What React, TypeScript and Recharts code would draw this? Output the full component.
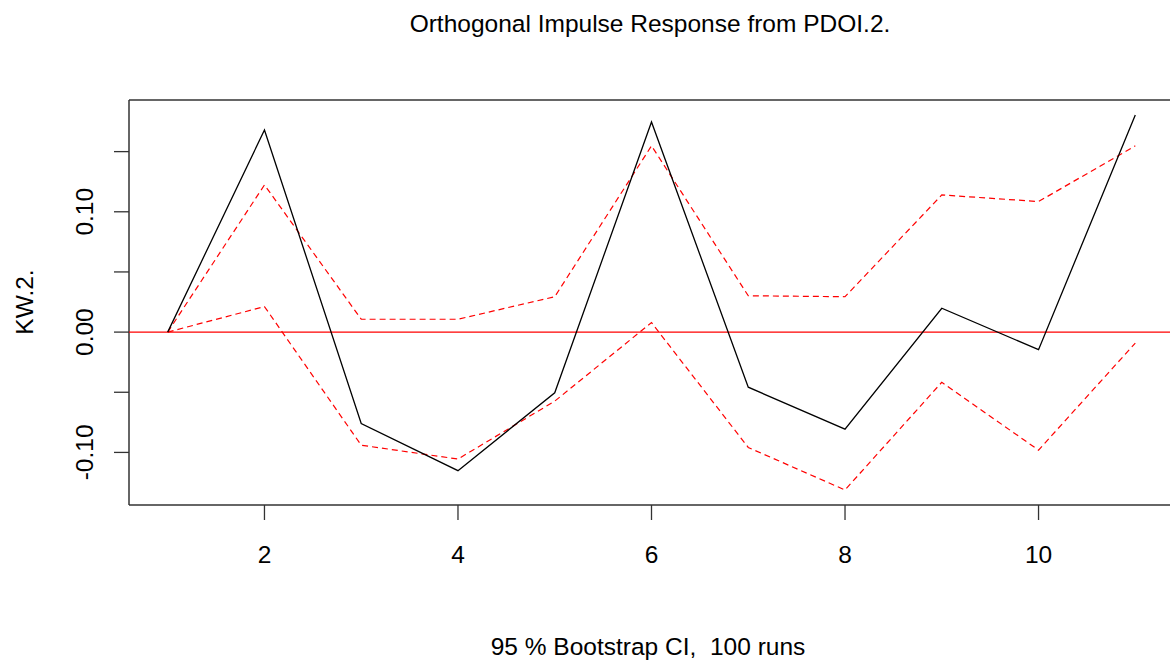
import React from 'react';
import { LineChart, Line, XAxis, YAxis, ReferenceLine } from 'recharts';

// impulse response horizon
const steps = [1, 2, 3, 4, 5, 6, 7, 8, 9, 10, 11];
const irf = [0, 0.168, -0.076, -0.1152, -0.0504, 0.1746, -0.0458, -0.0807, 0.0198, -0.0146, 0.1804];
const upperCI = [0, 0.1223, 0.0107, 0.0107, 0.0294, 0.1548, 0.0302, 0.0294, 0.114, 0.1085, 0.1548];
const lowerCI = [0, 0.0212, -0.094, -0.1055, -0.0574, 0.0079, -0.0959, -0.1312, -0.0417, -0.0981, -0.0091];

const xTicks = [2, 4, 6, 8, 10];
const yTicks = [-0.1, -0.05, 0, 0.05, 0.1, 0.15];
const yLabelled = [-0.1, 0, 0.1];

const X_DOMAIN: [number, number] = [0.6, 11.4];
const Y_DOMAIN: [number, number] = [-0.1437, 0.1929];

const FONT = '"Liberation Sans", Arial, sans-serif';
const FS = 24.5;

const data = steps.map((s, i) => ({
  step: s,
  irf: irf[i],
  upper: upperCI[i],
  lower: lowerCI[i],
}));

const YTick = (props: any) => {
  const { x, y, payload } = props;
  const v = payload.value;
  if (!yLabelled.some((l) => Math.abs(l - v) < 1e-9)) return null;
  return (
    <text
      x={x}
      y={y}
      transform={`rotate(-90 ${x} ${y})`}
      textAnchor="middle"
      fill="#000"
      fontSize={FS}
      fontFamily={FONT}
    >
      {v.toFixed(2)}
    </text>
  );
};

const App: React.FC = () => {
  return (
    <div
      style={{
        position: 'absolute',
        left: 0,
        top: 0,
        width: 1170,
        height: 660,
        overflow: 'hidden',
        background: '#fff',
      }}
    >
      <LineChart
        width={1180}
        height={660}
        data={data}
        margin={{ top: 100, right: 6, bottom: 0, left: 0 }}
      >
        <XAxis
          dataKey="step"
          type="number"
          domain={X_DOMAIN}
          ticks={xTicks}
          allowDataOverflow
          axisLine={false}
          tickSize={15}
          tickMargin={26}
          tickLine={{ stroke: '#333', strokeWidth: 1.3 }}
          tick={{ fill: '#000', fontSize: FS, fontFamily: FONT }}
          height={155}
        />
        <YAxis
          type="number"
          domain={Y_DOMAIN}
          ticks={yTicks}
          allowDataOverflow
          axisLine={false}
          tickSize={15}
          tickMargin={21}
          tickLine={{ stroke: '#333', strokeWidth: 1.3 }}
          tick={<YTick />}
          width={129}
        />
        {/* plot frame: right side is cut off by the image edge */}
        <ReferenceLine y={Y_DOMAIN[1]} stroke="#333" strokeWidth={1.5} />
        <ReferenceLine y={Y_DOMAIN[0]} stroke="#333" strokeWidth={1.5} />
        <ReferenceLine x={X_DOMAIN[0]} stroke="#333" strokeWidth={1.5} />
        <ReferenceLine y={0} stroke="#ff0000" strokeWidth={1.3} />
        <Line
          type="linear"
          dataKey="upper"
          stroke="#ff0000"
          strokeWidth={1.2}
          strokeDasharray="6 4"
          dot={false}
          isAnimationActive={false}
        />
        <Line
          type="linear"
          dataKey="lower"
          stroke="#ff0000"
          strokeWidth={1.2}
          strokeDasharray="6 4"
          dot={false}
          isAnimationActive={false}
        />
        <Line
          type="linear"
          dataKey="irf"
          stroke="#000"
          strokeWidth={1.3}
          dot={false}
          isAnimationActive={false}
        />
      </LineChart>

      {/* titles drawn on top, like R's title() */}
      <svg
        width={1170}
        height={660}
        style={{ position: 'absolute', left: 0, top: 0, pointerEvents: 'none' }}
      >
        <text x={650} y={32} textAnchor="middle" fontSize={FS} fontFamily={FONT} fill="#000">
          Orthogonal Impulse Response from PDOI.2.
        </text>
        <text x={648} y={655} textAnchor="middle" fontSize={FS} fontFamily={FONT} fill="#000" style={{ whiteSpace: 'pre' }}>
          95 % Bootstrap CI,  100 runs
        </text>
        <text
          x={33}
          y={302}
          transform="rotate(-90 33 302)"
          textAnchor="middle"
          fontSize={FS}
          fontFamily={FONT}
          fill="#000"
        >
          KW.2.
        </text>
      </svg>
    </div>
  );
};

export default App;
